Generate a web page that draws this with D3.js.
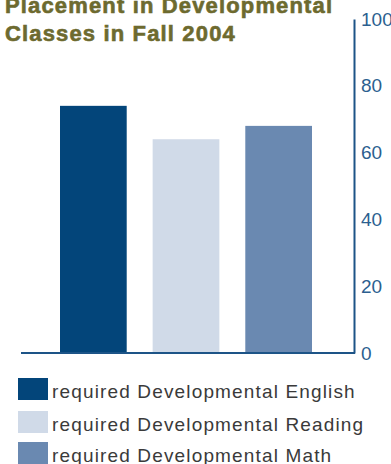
<!DOCTYPE html>
<html>
<head>
<meta charset="utf-8">
<script src="https://cdn.jsdelivr.net/npm/d3@7"></script>
<style>
  body { margin: 0; background: #fff; }
  svg { display: block; font-family: "Liberation Sans", Arial, Helvetica, sans-serif; }
  .title { fill: #6d6a2f; stroke: #6d6a2f; stroke-width: 0.6px; font-weight: bold; font-size: 22px; letter-spacing: 1.15px; }
  .axis text { fill: #2c5f8f; font-size: 19px; }
  .legend text { fill: #3a3a3a; font-size: 19px; letter-spacing: 1.15px; }
</style>
</head>
<body>
<svg id="chart" width="391" height="464"></svg>
<script>
var categories = ["English", "Reading", "Math"];
var values = [74, 64, 68];
var legendLabels = ["required Developmental English", "required Developmental Reading", "required Developmental Math"];
var yTicks = [0, 20, 40, 60, 80, 100];
var titleLines = ["Placement in Developmental", "Classes in Fall 2004"];

var colors = ["#03457a", "#d0dae8", "#6a89b1"];
var axisColor = "#1d5487";

var svg = d3.select("#chart");

var yScale = d3.scaleLinear()
    .domain([0, 100])
    .range([353, 19]);

var xScale = d3.scaleBand()
    .domain(categories)
    .range([60, 312])
    .paddingInner(0.28)
    .paddingOuter(0);

// title (top line is clipped by the frame, as in the original)
svg.selectAll(".title")
    .data(titleLines)
    .enter().append("text")
    .attr("class", "title")
    .attr("x", 5)
    .attr("y", function(d, i) { return 13 + i * 28; })
    .text(function(d) { return d; });

// bars
svg.selectAll(".bar")
    .data(values)
    .enter().append("rect")
    .attr("class", "bar")
    .attr("x", function(d, i) { return xScale(categories[i]); })
    .attr("y", function(d) { return yScale(d); })
    .attr("width", xScale.bandwidth())
    .attr("height", function(d) { return yScale(0) - yScale(d); })
    .attr("fill", function(d, i) { return colors[i]; });

// y axis on the right
var yAxis = d3.axisRight(yScale)
    .tickValues(yTicks)
    .tickSize(0)
    .tickPadding(7);

var yG = svg.append("g")
    .attr("class", "axis")
    .attr("transform", "translate(354,0)")
    .call(yAxis);

yG.select(".domain")
    .attr("stroke", axisColor)
    .attr("stroke-width", 2);

yG.selectAll("text")
    .attr("font-family", null)
    .attr("font-size", null);

// baseline
svg.append("line")
    .attr("x1", 21)
    .attr("x2", 355)
    .attr("y1", yScale(0))
    .attr("y2", yScale(0))
    .attr("stroke", axisColor)
    .attr("stroke-width", 2);

// legend
var legend = svg.selectAll(".legend")
    .data(legendLabels)
    .enter().append("g")
    .attr("class", "legend")
    .attr("transform", function(d, i) { return "translate(18," + [378, 411, 442][i] + ")"; });

legend.append("rect")
    .attr("width", 30)
    .attr("height", 22)
    .attr("fill", function(d, i) { return colors[i]; });

legend.append("text")
    .attr("x", 34)
    .attr("y", 20)
    .text(function(d) { return d; });
</script>
</body>
</html>
